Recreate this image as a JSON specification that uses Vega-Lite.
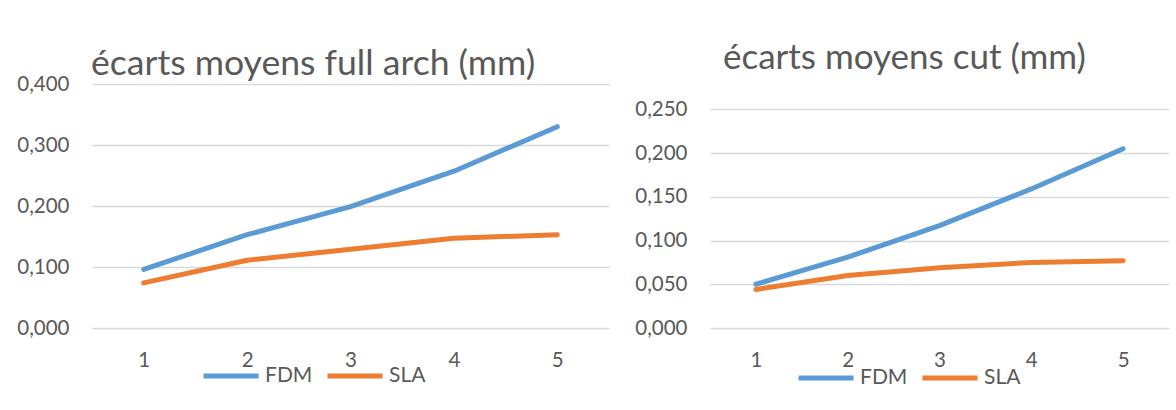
{
  "$schema": "https://vega.github.io/schema/vega-lite/v6.json",
  "padding": {"left": 16, "top": 40, "right": 0, "bottom": 0},
  "bounds": "flush",
  "spacing": 101,
  "datasets": {
    "full": [
      {"x": 1, "series": "FDM", "value": 0.096},
      {"x": 2, "series": "FDM", "value": 0.153},
      {"x": 3, "series": "FDM", "value": 0.199},
      {"x": 4, "series": "FDM", "value": 0.257},
      {"x": 5, "series": "FDM", "value": 0.330},
      {"x": 1, "series": "SLA", "value": 0.074},
      {"x": 2, "series": "SLA", "value": 0.111},
      {"x": 3, "series": "SLA", "value": 0.129},
      {"x": 4, "series": "SLA", "value": 0.147},
      {"x": 5, "series": "SLA", "value": 0.153}
    ],
    "cut": [
      {"x": 1, "series": "FDM", "value": 0.050},
      {"x": 2, "series": "FDM", "value": 0.081},
      {"x": 3, "series": "FDM", "value": 0.117},
      {"x": 4, "series": "FDM", "value": 0.159},
      {"x": 5, "series": "FDM", "value": 0.205},
      {"x": 1, "series": "SLA", "value": 0.044},
      {"x": 2, "series": "SLA", "value": 0.060},
      {"x": 3, "series": "SLA", "value": 0.069},
      {"x": 4, "series": "SLA", "value": 0.075},
      {"x": 5, "series": "SLA", "value": 0.077}
    ]
  },
  "config": {
    "locale": {"number": {"decimal": ",", "thousands": " ", "grouping": [3], "currency": ["", " €"]}},
    "font": "Lato",
    "view": {"stroke": null},
    "axis": {"labelColor": "#595959", "labelFont": "Lato", "labelFontSize": 20.5, "domain": false, "ticks": false, "title": null, "gridColor": "#d9d9d9", "gridWidth": 1.5},
    "title": {"color": "#595959", "fontSize": 35, "fontWeight": "normal", "anchor": "start", "frame": "group", "baseline": "alphabetic", "font": "Lato"},
    "legend": {"symbolType": "stroke", "symbolSize": 3025, "symbolStrokeWidth": 5, "labelFontSize": 21, "labelFont": "Lato", "labelColor": "#595959", "labelOffset": 4, "columnPadding": 4, "padding": 0, "direction": "horizontal", "orient": "none", "title": null}
  },
  "resolve": {"scale": {"color": "independent"}, "legend": {"color": "independent"}},
  "hconcat": [
    {
      "width": 517,
      "height": 244,
      "data": {"name": "full"},
      "title": {"text": "écarts moyens full arch (mm)", "offset": -8.7, "dx": -1, "fontSize": 35.6},
      "mark": {"type": "line", "strokeWidth": 5, "strokeCap": "round", "strokeJoin": "round"},
      "encoding": {
        "x": {"field": "x", "type": "ordinal", "scale": {"type": "point", "padding": 0.5}, "axis": {"labelAngle": 0, "grid": false, "labelPadding": 22}},
        "y": {"field": "value", "type": "quantitative", "scale": {"domain": [0, 0.4], "nice": false}, "axis": {"values": [0, 0.1, 0.2, 0.3, 0.4], "format": ".3f", "labelPadding": 23}},
        "color": {"field": "series", "type": "nominal", "scale": {"domain": ["FDM", "SLA"], "range": ["#5b9bd5", "#ed7d31"]}, "legend": {"legendX": 109, "legendY": 262}}
      }
    },
    {
      "width": 459,
      "height": 244,
      "data": {"name": "cut"},
      "title": {"text": "écarts moyens cut (mm)", "offset": 8.3, "dx": 13},
      "mark": {"type": "line", "strokeWidth": 5, "strokeCap": "round", "strokeJoin": "round"},
      "encoding": {
        "x": {"field": "x", "type": "ordinal", "scale": {"type": "point", "padding": 0.5}, "axis": {"labelAngle": 0, "grid": false, "labelPadding": 22}},
        "y": {"field": "value", "type": "quantitative", "scale": {"domain": [0, 0.279], "nice": false}, "axis": {"values": [0, 0.05, 0.1, 0.15, 0.2, 0.25], "format": ".3f", "labelPadding": 23}},
        "color": {"field": "series", "type": "nominal", "scale": {"domain": ["FDM", "SLA"], "range": ["#5b9bd5", "#ed7d31"]}, "legend": {"legendX": 86, "legendY": 264}}
      }
    }
  ]
}
